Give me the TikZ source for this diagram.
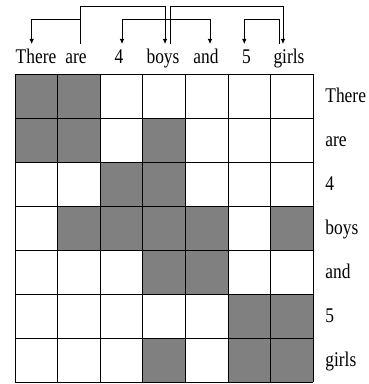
\documentclass[tikz,border=0pt]{standalone}
\usepackage{fontspec}
\setmainfont{Liberation Serif}
\usetikzlibrary{arrows.meta}

\newcommand{\tallword}[1]{\scalebox{1}[1.2]{#1}}

\tikzset{
  link/.style={line width=0.8pt},
  dep/.style={link, -{Latex[length=5pt,width=4.5pt]}},
  word/.style={anchor=base, inner sep=0pt, font=\fontsize{17.4}{20}\selectfont},
  rowlab/.style={anchor=base west, inner sep=0pt, xshift=12pt, yshift=-6.3pt, font=\fontsize{17.4}{20}\selectfont},
  cell/.style={fill=black!50},
  gridline/.style={line width=0.9pt},
}

\begin{document}
\begin{tikzpicture}[x=1pt,y=1pt]
 \useasboundingbox (0,0) rectangle (369,384);

 % the sentence
 \foreach \t/\x [count=\i] in {There/36, are/76, 4/119, boys/163, and/206, 5/246.5, girls/289}
   \node[word] (w\i) at (\x,320.7) {\tallword{\t}};

 % where the arcs leave and reach the words
 \foreach \n/\w/\dx in {p1/w1/-4.3, p2/w2/4, p3/w3/3, p4a/w4/2, p4b/w4/7,
                        p5/w5/4, p6/w6/-2.2, p7a/w7/-10, p7b/w7/-6}
   \coordinate (\n) at ([shift={(\dx,19.3)}]\w.base);
 \coordinate (lo) at (0,365);
 \coordinate (hi) at (0,377.8);

 \draw[dep] (p2) -- (p2 |- lo) -| (p1);
 \draw[dep] (p2) -- (p2 |- hi) -| (p4a);
 \draw[dep] (p4b) -- (p4b |- lo) -| (p3);
 \draw[dep] (p4b) -- (p4b |- lo) -| (p5);
 \draw[dep] (p4b) -- (p4b |- hi) -| (p7b);
 \draw[dep] (p7a) -- (p7a |- lo) -| (p6);

 % the matrix
 \begin{scope}[shift={(15,309.5)}, x=42.6pt, y=-44pt]
   \foreach \r/\cs in {1/{1,2}, 2/{1,2,4}, 3/{3,4}, 4/{2,3,4,5,7}, 5/{4,5}, 6/{6,7}, 7/{4,6,7}}
     \foreach \c in \cs
       \fill[cell] (\c-1,\r-1) rectangle (\c,\r);
   \foreach \i in {0,...,7} {
     \draw[gridline] (\i,0) -- (\i,7);
     \draw[gridline] (0,\i) -- (7,\i);
   }
   \foreach \t [count=\r] in {There,are,4,boys,and,5,girls}
     \node[rowlab] (r\r) at (7,\r-0.5) {\tallword{\t}};
 \end{scope}

\end{tikzpicture}
\end{document}
